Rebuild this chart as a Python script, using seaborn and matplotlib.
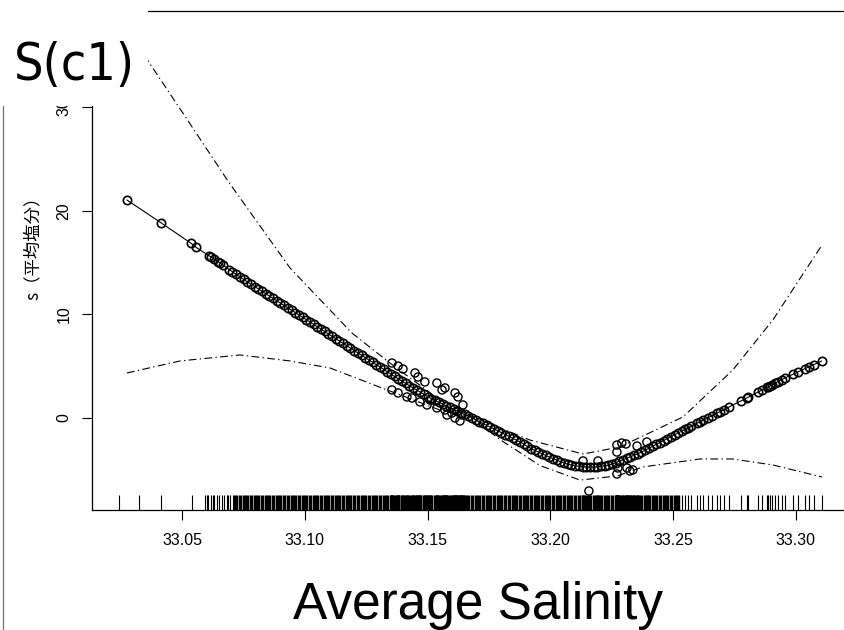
import matplotlib
matplotlib.use("Agg")
import matplotlib.pyplot as plt
import seaborn as sns
from matplotlib import font_manager
from matplotlib.patches import Rectangle
from matplotlib.lines import Line2D

# ---------------- data ----------------
fit_x = [33.0276, 33.0414, 33.0537, 33.0557, 33.0612, 33.0618, 33.0630, 33.0648, 33.0656, 33.0667,
         33.0692, 33.0705, 33.0718,
         33.0736, 33.0751, 33.0766, 33.0781, 33.0796, 33.0811, 33.0826, 33.0841, 33.0856, 33.0871,
         33.0886, 33.0901, 33.0916, 33.0931, 33.0946, 33.0961, 33.0976, 33.0991, 33.1006, 33.1021,
         33.1036, 33.1051, 33.1066, 33.1081, 33.1096, 33.1111, 33.1126, 33.1141, 33.1156, 33.1171,
         33.1186, 33.1201, 33.1216, 33.1231, 33.1246, 33.1261, 33.1276, 33.1291, 33.1306, 33.1321,
         33.1336, 33.1351, 33.1366, 33.1381,
         33.1396, 33.1411, 33.1426, 33.1441, 33.1456, 33.1471, 33.1486, 33.1501,
         33.1516, 33.1531, 33.1546, 33.1561, 33.1576, 33.1591, 33.1606, 33.1621, 33.1636, 33.1651, 33.1666,
         33.1681, 33.1696, 33.1711, 33.1726, 33.1741, 33.1756, 33.1771, 33.1786,
         33.1801, 33.1816, 33.1831, 33.1846, 33.1861, 33.1876, 33.1891, 33.1906,
         33.1921, 33.1936, 33.1951, 33.1966, 33.1981, 33.1996, 33.2011, 33.2026,
         33.2041, 33.2056, 33.2071, 33.2086, 33.2101, 33.2116, 33.2131, 33.2146, 33.2161, 33.2176,
         33.2191, 33.2206, 33.2221, 33.2236,
         33.2251, 33.2266, 33.2281, 33.2296, 33.2311, 33.2326, 33.2341, 33.2356,
         33.2371, 33.2386, 33.2401, 33.2416, 33.2431, 33.2446, 33.2461, 33.2476, 33.2491, 33.2506, 33.2521,
         33.2536, 33.2548, 33.2560, 33.2572, 33.2597, 33.2609, 33.2621, 33.2642, 33.2658, 33.2678,
         33.2691, 33.2707, 33.2727, 33.2776, 33.2800, 33.2805, 33.2845, 33.2862, 33.2882, 33.2886,
         33.2894, 33.2902, 33.2915, 33.2927, 33.2943, 33.2955, 33.2988, 33.3008, 33.3037, 33.3053,
         33.3073, 33.3105]
fit_y = [21.06, 18.87, 16.88, 16.49, 15.64, 15.56, 15.38, 15.10, 14.97, 14.78,
         14.34, 14.13, 13.91,
         13.62, 13.39, 13.16, 12.93, 12.70, 12.48, 12.25, 12.02, 11.79, 11.56,
         11.33, 11.10, 10.87, 10.64, 10.42, 10.19, 9.96, 9.73, 9.50, 9.27,
         9.04, 8.81, 8.58, 8.36, 8.13, 7.90, 7.67, 7.44, 7.21, 6.98,
         6.75, 6.52, 6.30, 6.07, 5.84, 5.61, 5.38, 5.15, 4.92, 4.69,
         4.46, 4.23, 4.01, 3.78,
         3.56, 3.34, 3.13, 2.91, 2.70, 2.49, 2.27, 2.06,
         1.86, 1.69, 1.53, 1.36, 1.19, 1.02, 0.85, 0.68, 0.51, 0.35, 0.18,
         0.00, -0.17, -0.35, -0.53, -0.71, -0.88, -1.06, -1.24,
         -1.42, -1.60, -1.78, -1.96, -2.14, -2.31, -2.49, -2.75,
         -2.95, -3.12, -3.30, -3.46, -3.62, -3.78, -3.93, -4.08,
         -4.22, -4.35, -4.46, -4.55, -4.62, -4.67, -4.71, -4.73, -4.74, -4.73,
         -4.71, -4.67, -4.62, -4.55,
         -4.45, -4.32, -4.18, -4.04, -3.89, -3.74, -3.59, -3.44,
         -3.30, -3.12, -2.93, -2.74, -2.55, -2.37, -2.18, -1.99, -1.81, -1.62, -1.43,
         -1.25, -1.11, -0.96, -0.82, -0.51, -0.37, -0.22, 0.03, 0.22, 0.47,
         0.62, 0.81, 1.06, 1.65, 1.94, 2.00, 2.50, 2.71, 2.96, 3.01,
         3.10, 3.20, 3.36, 3.51, 3.71, 3.86, 4.23, 4.45, 4.77, 4.94,
         5.16, 5.51]

# partial-residual style points lying off the curve
scat_x = [33.1355, 33.1380, 33.1400, 33.1449, 33.1461, 33.1489, 33.1538, 33.1571, 33.1559, 33.1612,
          33.1624, 33.1644, 33.1355, 33.1380, 33.1416, 33.1437, 33.1469, 33.1498, 33.1538, 33.1571,
          33.1599, 33.1612, 33.1632, 33.1640, 33.1579, 33.1510,
          33.2271, 33.2291, 33.2308, 33.2353, 33.2393, 33.2271, 33.2275, 33.2271, 33.2312, 33.2324,
          33.2336, 33.2133, 33.2194, 33.2157]
scat_y = [5.31, 5.02, 4.73, 4.35, 3.96, 3.48, 3.38, 2.90, 2.71, 2.42,
          2.03, 1.26, 2.71, 2.42, 2.03, 1.93, 1.55, 1.26, 0.97, 0.77,
          0.48, 0.00, -0.29, 0.29, 0.29, 1.74,
          -2.61, -2.42, -2.51, -2.71, -2.32, -3.29, -4.83, -5.41, -4.83, -5.12,
          -5.02, -4.15, -4.15, -7.05]

upper_x = [33.0276, 33.0362, 33.0533, 33.0687, 33.0940, 33.1192, 33.1347, 33.1550, 33.1685,
           33.1917, 33.2133, 33.2283, 33.2540, 33.2743, 33.2906, 33.3106]
upper_y = [37.58, 34.49, 28.41, 22.90, 14.49, 8.21, 5.31, 1.74, 0.10,
           -2.13, -3.48, -2.80, 0.10, 4.64, 9.47, 16.71]
lower_x = [33.0276, 33.0492, 33.0736, 33.0940, 33.1103, 33.1335, 33.1550, 33.1685, 33.1783,
           33.1958, 33.2121, 33.2271, 33.2377, 33.2609, 33.2743, 33.2906, 33.3106]
lower_y = [4.35, 5.51, 6.09, 5.51, 4.83, 2.71, 0.77, 0.10, -1.90,
           -4.60, -6.00, -5.60, -4.73, -3.96, -3.96, -4.54, -5.70]

rug_left = [33.0243, 33.0325, 33.0414, 33.0541, 33.0594, 33.0602, 33.0606, 33.0618, 33.0626,
            33.0630, 33.0643, 33.0651, 33.0663, 33.0671, 33.0683, 33.0687, 33.0695, 33.0708, 33.0712]

x_ticks = [33.05, 33.10, 33.15, 33.20, 33.25, 33.30]
x_ticklabels = ["33.05", "33.10", "33.15", "33.20", "33.25", "33.30"]
y_ticks = [0, 10, 20, 30]
y_ticklabels = ["0", "10", "20", "30"]

title = "S(c1)"
xlabel = "Average Salinity"
ylabel = "s（平均塩分）"

# ---------------- figure ----------------
sns.set_theme(style="ticks")
plt.rcParams['font.family'] = ['Liberation Sans', 'DejaVu Sans']

# look for a condensed sans face for the panel title
cond = None
for f in font_manager.fontManager.ttflist:
    n = (f.name + ' ' + f.fname).lower()
    if ('narrow' in n or 'condensed' in n) and 'mono' not in n and 'serif' not in n \
            and f.style == 'normal' and f.weight in (400, 'normal', 'regular'):
        cond = f.fname
        break

W, H = 845, 630
fig = plt.figure(figsize=(W / 100, H / 100), dpi=100)
ax = fig.add_axes([92 / W, (H - 510) / H, (862 - 92) / W, (510 - 11) / H])
ax.set_facecolor('white')

ax.set_xlim(33.01336, 33.3269)
ax.set_ylim(-8.889, 39.32)

dd = (0, (7, 3, 1.2, 3))
sns.lineplot(x=upper_x, y=upper_y, ax=ax, color='black', lw=0.8, linestyle=dd, sort=False, estimator=None)
sns.lineplot(x=lower_x, y=lower_y, ax=ax, color='black', lw=0.8, linestyle=dd, sort=False, estimator=None)
sns.lineplot(x=fit_x, y=fit_y, ax=ax, color='black', lw=0.8, sort=False, estimator=None,
             marker='o', markersize=6.0, markerfacecolor='none', markeredgecolor='black',
             markeredgewidth=1.2)
sns.scatterplot(x=scat_x, y=scat_y, ax=ax, marker='o', s=34, facecolor='none',
                edgecolor='black', linewidth=1.0)

dense = [v for v in fit_x if 33.0716 <= v <= 33.2525] + scat_x
sparse = rug_left + [v for v in fit_x if v > 33.2525]
sns.rugplot(x=dense, ax=ax, height=0.03, linewidth=2.5, color='black')
sns.rugplot(x=sparse, ax=ax, height=0.03, linewidth=0.8, color='black')

for s in ax.spines.values():
    s.set_color('black')
    s.set_linewidth(0.9)

ax.set_xticks(x_ticks)
ax.set_xticklabels(x_ticklabels)
ax.set_yticks(y_ticks)
ax.set_yticklabels(y_ticklabels, rotation=90, va='center')
ax.tick_params(axis='both', direction='out', length=7.2, width=0.8, color='black',
               labelsize=11.5, labelcolor='black')
ax.tick_params(axis='x', pad=9.5)
ax.tick_params(axis='y', pad=7.5)
ax.set_xlabel('')
ax.set_ylabel('')

# white cover over the top-left corner holding the panel title
fig.patches.append(Rectangle((0, 1 - 106 / H), 148 / W, 106 / H, transform=fig.transFigure,
                             facecolor='white', edgecolor='none', zorder=10))
if cond:
    fp = font_manager.FontProperties(fname=cond, size=40)
    ttl = fig.text(14 / W, 1 - 80 / H, title, fontproperties=fp,
                   color='black', ha='left', va='baseline', zorder=11)
    fig.canvas.draw()
    wpx = ttl.get_window_extent().width
    ttl.set_fontsize(40 * 121 / wpx)
else:
    fig.text(14 / W, 1 - 80 / H, title, fontsize=40, family=['Liberation Sans'], color='black',
             ha='left', va='baseline', zorder=11)
fig.text(478 / W, 1 - 619 / H, xlabel, fontsize=37, family=['Liberation Sans'], color='black',
         ha='center', va='baseline')
fig.text(33 / W, 1 - 244 / H, ylabel, fontsize=12.5, rotation=90,
         family=['Noto Sans CJK JP', 'DejaVu Sans'], color='black', ha='center', va='center')
fig.lines.append(Line2D([3.5 / W, 3.5 / W], [0, 1 - 105 / H], transform=fig.transFigure,
                        color='#6a6aae', lw=0.9))

fig.savefig('out.png', dpi=100)
